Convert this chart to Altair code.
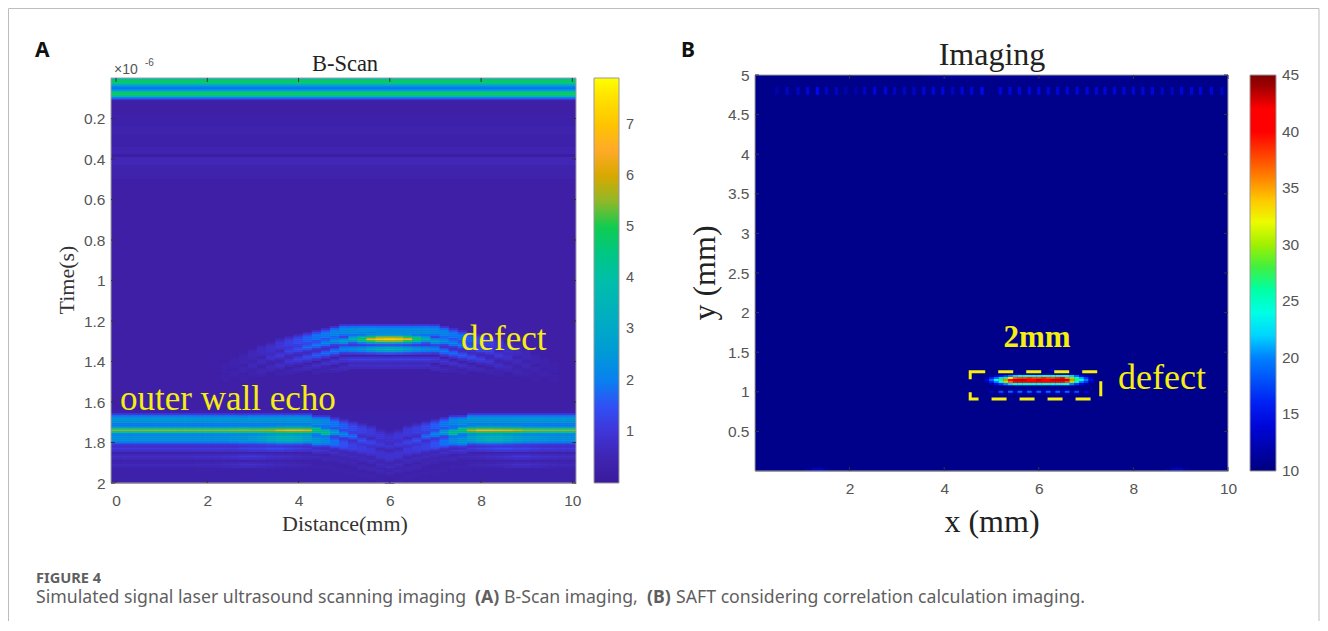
import altair as alt
import pandas as pd

# ---------- panel A: B-scan ----------
A_COLOR_VALUES = [0, 0.3, 0.6, 1, 1.5, 1.7, 2, 2.5, 3, 4, 4.6, 5, 5.3, 5.7, 6, 6.2, 6.5, 7, 7.5, 7.91]
A_COLORS = ["#3a1a9c", "#3e1fa6", "#4028b8", "#3f35d8", "#3050f5", "#0f70f8", "#0a80f0", "#0098d8",
            "#00a8c8", "#00bfa8", "#00c878", "#10cc50", "#70c040", "#b0b010", "#d8a800", "#f0a808",
            "#ffaa28", "#ffc400", "#ffe000", "#ffff00"]
A_XTICKS = [0, 2, 4, 6, 8, 10]
A_YTICKS = [0.2, 0.4, 0.6, 0.8, 1, 1.2, 1.4, 1.6, 1.8, 2]
A_CTICKS = [1, 2, 3, 4, 5, 6, 7]

# full-width horizontal rows: time from, time to, amplitude
A_ROWS = [
    (0.00, 0.006, 3.6), (0.006, 0.012, 4.4), (0.012, 0.024, 4.9), (0.024, 0.03, 4.2), (0.03, 0.038, 3.2),
    (0.038, 0.046, 2.3), (0.046, 0.056, 1.7), (0.056, 0.064, 2.6), (0.064, 0.072, 3.8), (0.072, 0.086, 4.9),
    (0.086, 0.094, 3.6), (0.094, 0.102, 2.0), (0.102, 0.11, 1.0), (0.11, 0.18, 0.28), (0.18, 0.24, 0.36),
    (0.24, 0.28, 0.42), (0.28, 0.34, 0.36), (0.34, 0.375, 0.45), (0.375, 0.39, 0.22), (0.39, 0.43, 0.55),
    (0.43, 0.5, 0.42), (0.5, 1.46, 0.3), (1.46, 1.64, 0.28), (1.64, 2.0, 0.36),
]

# columns of the scan, left to right
A_COLUMN_START = -0.11
A_COLUMN_WIDTH = 0.2
A_COLUMNS = 51
A_ROW_HEIGHT = 0.01

# defect echo, by column distance from the apex (one mirrored half)
DEFECT_SHIFT = [0, 0, 0, 0, 0, .005, .012, .02, .03, .04, .05, .063, .077, .092, .108, .125, .145, .165, .185, .205, .23]
DEFECT_TOP = [2.3, 2.3, 2.3, 2.3, 2.3, 2.2, 2.1, 1.9, 1.8, 1.6, 1.4, 1.2, 1.0, .85, .7, .6, .5, .45, .4, 0, 0]
DEFECT_MAIN = [7.3, 7.1, 6.6, 5.0, 3.5, 2.9, 2.5, 2.2, 2.0, 1.8, 1.5, 1.3, 1.1, .9, .7, .6, .5, .45, .4, 0, 0]
DEFECT_LOW = [3.6, 3.4, 3.0, 2.6, 2.4, 2.2, 2.0, 1.8, 1.6, 1.4, 1.2, 1.0, .8, .65, .55, .45, .4, 0, 0, 0, 0]
DEFECT_R1 = [1.2, 1.2, 1.2, 1.2, 1.2, 1.1, 1.0, .9, .8, .7, .6, .5, .45, 0, 0, 0, 0, 0, 0, 0, 0]
DEFECT_R2 = [.8, .8, .8, .8, .8, .7, .6, .5, .45, 0, 0, 0, 0, 0, 0, 0, 0, 0, 0, 0, 0]

# outer wall echo, one value per column
WALL_SHIFT = [0, 0, 0, 0, 0, 0, 0, 0, 0, 0, 0, 0, 0, 0, 0, 0, 0, 0, 0, 0, 0, 0, .005, .01, .015, .025, .035, .05, .06, .075, .085,
              .075, .06, .05, .035, .025, .015, .01, .005, 0, 0, 0, 0, 0, 0, 0, 0, 0, 0, 0, 0]
WALL_PEAK = [5.4, 5.4, 5.4, 5.4, 5.4, 5.4, 5.4, 5.4, 5.4, 5.4, 5.4, 5.4, 5.4, 5.5, 5.5, 5.5, 5.6, 5.8, 6.3, 6.5, 6.5, 6.3, 4.9, 4.6, 3.0, 2.2, 1.8, 1.5, 1.3, 1.1, 1.0,
             1.1, 1.3, 1.5, 1.8, 2.2, 3.0, 4.6, 4.9, 6.0, 6.5, 6.5, 6.4, 6.3, 6.1, 5.6, 5.5, 5.4, 5.4, 5.4, 5.4]
WALL_UPPER = [2.5, 2.5, 2.5, 2.5, 2.5, 2.5, 2.5, 2.5, 2.5, 2.5, 2.5, 2.5, 2.5, 2.5, 2.5, 2.5, 2.5, 2.5, 2.5, 2.5, 2.5, 2.5, 2.4, 2.2, 1.9, 1.6, 1.4, 1.2, 1.1, 1.0, .9,
              1.0, 1.1, 1.2, 1.4, 1.6, 1.9, 2.2, 2.4, 2.5, 2.5, 2.5, 2.5, 2.5, 2.5, 2.5, 2.5, 2.5, 2.5, 2.5, 2.5]
WALL_LOWER = [2.4, 2.4, 2.4, 2.4, 2.4, 2.4, 2.4, 2.4, 2.4, 2.4, 2.4, 2.4, 2.4, 2.5, 2.6, 2.7, 2.9, 3.2, 3.5, 3.5, 3.3, 2.9, 2.5, 2.2, 1.8, 1.5, 1.2, 1.1, 1.0, .9, .9,
              .9, 1.0, 1.1, 1.2, 1.5, 1.8, 2.2, 2.5, 2.9, 3.3, 3.5, 3.5, 3.2, 2.9, 2.7, 2.6, 2.5, 2.4, 2.4, 2.4]
WALL_R1 = [1.1, 1.1, 1.1, 1.1, 1.1, 1.1, 1.1, 1.1, 1.1, 1.1, 1.1, 1.1, 1.1, 1.1, 1.2, 1.3, 1.3, 1.4, 1.4, 1.3, 1.2, 1.1, 1.0, .9, .8, .7, .7, .7, .7, .7, .7,
           .7, .7, .7, .7, .7, .8, .9, 1.0, 1.1, 1.2, 1.3, 1.4, 1.4, 1.3, 1.3, 1.2, 1.1, 1.1, 1.1, 1.1]
WALL_R2 = [.75, .75, .75, .75, .75, .75, .75, .75, .75, .8, .8, .8, .85, .9, 1.0, 1.0, .95, .85, .8, .75, .7, .65, .6, .6, .55, .55, .55, .55, .55, .55, .55,
           .55, .55, .55, .55, .55, .55, .6, .6, .65, .7, .75, .8, .9, 1.0, 1.0, .9, .85, .8, .75, .75]
PROFILE_THIN = [(-.02, .35), (-.01, .75), (0, 1), (.01, .75), (.02, .35)]
PROFILE_THICK = [(-.03, .35), (-.02, .75), (-.01, 1), (0, 1), (.01, 1), (.02, .75), (.03, .35)]
PROFILE_FAINT = [(-.01, .6), (0, 1), (.01, .6)]

# ---------- panel B: imaging ----------
B_COLOR_VALUES = [10, 15, 20, 23, 25, 27.5, 28, 30, 32.5, 35, 37, 40, 42, 43, 45]
B_COLORS = ["#00007f", "#0008f0", "#0080ff", "#00ffff", "#00ffc8", "#00ff70", "#40f040", "#a0f000",
            "#ffff00", "#ffa000", "#ff6000", "#ff0000", "#ff0000", "#c00000", "#7f0000"]
B_XTICKS = [2, 4, 6, 8, 10]
B_YTICKS = [0.5, 1, 1.5, 2, 2.5, 3, 3.5, 4, 4.5, 5]
B_CTICKS = [10.001, 15, 20, 25, 30, 35, 40, 44.999]
B_BACKGROUND = 10.5
DEFECT_X = [4.9, 5.0, 5.1, 5.2, 5.3, 5.4, 5.5, 5.6, 5.7, 5.8, 5.9, 6.0, 6.1, 6.2, 6.3, 6.4, 6.5, 6.6, 6.7, 6.8, 6.9, 7.0, 7.1]
DEFECT_Y = [1.275, 1.2, 1.175, 1.15, 1.125, 1.1, 1.025, 1.0, 0.975]
DEFECT_IMAGE = [
    [10, 10, 10, 10, 10, 12, 11, 10, 10, 11, 10, 10, 10, 11, 13, 11, 10, 10, 10, 10, 10, 10, 10],
    [10, 11, 13, 15, 17, 20, 22, 24, 24, 24, 24, 24, 24, 24, 24, 24, 24, 23, 22, 19, 15, 12, 10],
    [12, 16, 19, 22, 27, 33, 37, 38, 38, 39, 38, 38, 39, 38, 38, 39, 40, 36, 29, 25, 21, 17, 13],
    [14, 19, 23, 28, 36, 42, 43, 43, 43, 42, 42, 43, 42, 42, 43, 43, 44, 43, 36, 28, 24, 20, 15],
    [12, 16, 20, 23, 30, 37, 40, 41, 40, 41, 41, 40, 41, 41, 40, 41, 41, 38, 30, 24, 20, 17, 12],
    [10, 12, 15, 17, 20, 22, 24, 24, 24, 24, 24, 24, 24, 24, 24, 24, 24, 23, 20, 17, 14, 12, 10],
    [10, 10, 10, 11, 10, 11, 11, 12, 11, 12, 11, 12, 11, 12, 11, 12, 11, 12, 10, 11, 10, 10, 10],
    [10, 13, 11, 18, 12, 19, 13, 19, 13, 19, 13, 19, 13, 19, 13, 19, 13, 19, 12, 18, 11, 14, 10],
    [10, 11, 10, 12, 10, 12, 11, 12, 11, 12, 11, 12, 11, 12, 11, 12, 11, 12, 10, 12, 10, 10, 10],
]
SPOT_X = [.46, .68, .91, 1.11, 1.32, 1.51, 1.72, 1.92, 2.13, 2.32, 2.53, 2.76, 2.95, 3.16, 3.36, 3.57, 3.77, 3.97, 4.18, 4.38, 4.58, 4.8,
          5.19, 5.39, 5.59, 5.8, 6.0, 6.2, 6.4, 6.6, 6.81, 7.02, 7.22, 7.4, 7.6, 7.8, 8.0, 8.2, 8.4, 8.61, 8.82, 9.02, 9.23, 9.42, 9.65, 9.87]
SPOT_V = [12, 13, 13, 14, 15, 13, 13, 12, 12, 13, 14, 14, 13, 13, 13, 14, 14, 14, 13, 14, 14, 15,
          14, 14, 14, 14, 14, 14, 14, 14, 14, 14, 14, 14, 14, 14, 14, 14, 14, 13, 13, 14, 14, 14, 14, 13]
EDGE_CELLS = [(1.05, 1.2, 0, .03, 11.5), (1.2, 1.45, 0, .045, 12.5), (1.45, 1.6, 0, .03, 11.5),
              (8.65, 8.8, 0, .03, 11.5), (8.8, 9.05, 0, .045, 12.5), (9.05, 9.2, 0, .03, 11.5),
              (3.6, 8.0, 4.95, 4.99, 11)]
BOX = [(4.55, 7.31, 0.91, 1.254)]

# ---------- shared text and layout ----------
SANS = "Liberation Sans"
SERIF = "Liberation Serif"
CAPTION = "Noto Sans"
A_LEFT, B_LEFT, TOP = 111, 755, 75
A_W, A_H, B_W, B_H = 465, 408, 473, 396
FRAME = "#bdbdbd"
FRAME_RIGHT = 1319
FRAME_BOTTOM = 621


def text(origin, px, py, s, size, font=SERIF, color="#222222", weight="normal", angle=0, align="left"):
    return alt.Chart(pd.DataFrame({"s": [s]})).mark_text(
        font=font, fontSize=size, color=color, fontWeight=weight, angle=angle, align=align, baseline="middle"
    ).encode(x=alt.value(px - origin), y=alt.value(py - TOP), text="s:N")


def axis(values, pad, size=15.5):
    return alt.Axis(values=values, title=None, grid=False, tickSize=0, labelPadding=pad,
                    labelExpr="'' + datum.value",
                    labelFont=SANS, labelFontSize=size, labelColor="#555555", domainColor="#a0a0a0",
                    labelOverlap=False, labelFlush=False)


def inner_ticks(field, values, channel, scale, ax, size=4, h=0, w=0):
    d = pd.DataFrame({field: values})
    base = alt.Chart(d).mark_rule(color="#333344", strokeWidth=1)
    layers = []
    if channel == "x":
        enc = alt.X(field + ":Q", scale=scale, axis=ax)
        layers.append(base.encode(x=enc, y=alt.value(h), y2=alt.value(h - size)))
        layers.append(base.encode(x=enc, y=alt.value(h - w), y2=alt.value(h - w + size)))
    else:
        enc = alt.Y(field + ":Q", scale=scale, axis=ax)
        layers.append(base.encode(y=enc, x=alt.value(0), x2=alt.value(size)))
        layers.append(base.encode(y=enc, x=alt.value(w), x2=alt.value(w - size)))
    return layers


# ---------- build panel A cells ----------
a_rows = pd.DataFrame(A_ROWS, columns=["t0", "t1", "v"]).assign(x0=-0.11, x1=10.08)
a_rows["t1"] = a_rows["t1"] + 0.005
grid = {}


def add_band(col, centre, amp, profile, bg=0.3):
    if amp <= 0:
        return
    for off, w in profile:
        r = int((centre + off) / A_ROW_HEIGHT + 0.5 + 1e-6)
        val = bg + (amp - bg) * w
        grid[(col, r)] = max(grid.get((col, r), 0), val)


for i in range(A_COLUMNS):
    k = abs(i - 30)
    if k < len(DEFECT_SHIFT):
        s = DEFECT_SHIFT[k]
        add_band(i, 1.245 + s, DEFECT_TOP[k], PROFILE_THICK)
        add_band(i, 1.29 + s, DEFECT_MAIN[k], PROFILE_THIN)
        add_band(i, 1.339 + s, DEFECT_LOW[k], PROFILE_THIN)
        add_band(i, 1.385 + s, DEFECT_R1[k], PROFILE_FAINT)
        add_band(i, 1.423 + s, DEFECT_R2[k], PROFILE_FAINT)
    s = WALL_SHIFT[i]
    add_band(i, 1.69 + s, WALL_UPPER[i], PROFILE_THICK)
    add_band(i, 1.735 + s, WALL_PEAK[i], PROFILE_THIN)
    add_band(i, 1.78 + s, WALL_LOWER[i], PROFILE_THICK)
    add_band(i, 1.83 + s, WALL_R1[i], PROFILE_FAINT)
    add_band(i, 1.865 + s, WALL_R2[i], PROFILE_FAINT)
    add_band(i, 1.91 + s, WALL_R2[i] * 0.8, PROFILE_FAINT)

a_cells = pd.DataFrame(
    [{"x0": A_COLUMN_START + c * A_COLUMN_WIDTH,
      "x1": min(A_COLUMN_START + (c + 1) * A_COLUMN_WIDTH + 0.01, 10.08),
      "t0": r * A_ROW_HEIGHT - A_ROW_HEIGHT / 2,
      "t1": r * A_ROW_HEIGHT + A_ROW_HEIGHT / 2 + 0.002, "v": grid[(c, r)]}
     for (c, r) in sorted(grid)]
)
a_data = pd.concat([a_rows, a_cells], ignore_index=True)
a_data["t1"] = a_data["t1"].clip(upper=2)

a_x = alt.Scale(domain=[-0.11, 10.08], nice=False, zero=False)
a_y = alt.Scale(domain=[0, 2], range=[3, A_H], nice=False, zero=False)
a_c = alt.Scale(domain=A_COLOR_VALUES, range=A_COLORS, interpolate="rgb", clamp=True)
a_xaxis, a_yaxis = axis(A_XTICKS, 10), axis(A_YTICKS, 6)

a_heat = alt.Chart(a_data).mark_rect(strokeWidth=0).encode(
    x=alt.X("x0:Q", scale=a_x, axis=a_xaxis),
    x2="x1:Q",
    y=alt.Y("t0:Q", scale=a_y, axis=a_yaxis),
    y2="t1:Q",
    color=alt.Color("v:Q", scale=a_c, legend=alt.Legend(
        orient="none", legendX=483, legendY=3, title=None, values=A_CTICKS, direction="vertical",
        gradientLength=405, gradientThickness=25, gradientStrokeColor="#999999", gradientStrokeWidth=1,
        labelFont=SANS, labelFontSize=14.5, labelColor="#555555", labelOffset=7, labelOverlap=False)),
)
a_frame = alt.Chart(pd.DataFrame({"x0": [-0.11], "x1": [10.08], "t0": [0], "t1": [2]})).mark_rect(
    fill=None, stroke="#a0a0a0", strokeWidth=1
).encode(x=alt.X("x0:Q", scale=a_x, axis=a_xaxis), x2="x1:Q", y=alt.Y("t0:Q", scale=a_y, axis=a_yaxis), y2="t1:Q")

page = [
    alt.Chart(pd.DataFrame({"a": [0]})).mark_rule(color=FRAME, strokeWidth=1).encode(
        x=alt.value(8.5 - A_LEFT), x2=alt.value(FRAME_RIGHT - A_LEFT), y=alt.value(8.5 - TOP)),
    alt.Chart(pd.DataFrame({"a": [0]})).mark_rule(color=FRAME, strokeWidth=1).encode(
        x=alt.value(8.5 - A_LEFT), y=alt.value(8.5 - TOP), y2=alt.value(FRAME_BOTTOM - TOP)),
    alt.Chart(pd.DataFrame({"a": [0]})).mark_rule(color=FRAME, strokeWidth=1).encode(
        x=alt.value(FRAME_RIGHT - A_LEFT), y=alt.value(8.5 - TOP), y2=alt.value(FRAME_BOTTOM - TOP)),
]
a_text = [
    text(A_LEFT, 35, 51, "A", 21, font=CAPTION, color="#111111", weight="bold"),
    text(A_LEFT, 345, 64, "B-Scan", 22.5, align="center"),
    text(A_LEFT, 114, 70, "×10", 14, font=SANS, color="#555555"),
    text(A_LEFT, 145, 63, "-6", 10, font=SANS, color="#555555"),
    text(A_LEFT, 345, 524, "Distance(mm)", 22, color="#333333", align="center"),
    text(A_LEFT, 67, 280, "Time(s)", 22, color="#333333", angle=270, align="center"),
    text(A_LEFT, 461, 339, "defect", 35, color="#f5ee10"),
    text(A_LEFT, 120, 399, "outer wall echo", 35, color="#f5ee10"),
    text(A_LEFT, 36, 579, "FIGURE 4", 14.6, font=CAPTION, color="#5f5f5f", weight="bold"),
    text(A_LEFT, 36, 598, "Simulated signal laser ultrasound scanning imaging", 17.7, font=CAPTION, color="#5f5f5f"),
    text(A_LEFT, 475, 598, "(A)", 17.7, font=CAPTION, color="#5f5f5f", weight="bold"),
    text(A_LEFT, 504, 598, "B-Scan imaging,", 17.7, font=CAPTION, color="#5f5f5f"),
    text(A_LEFT, 647, 598, "(B)", 17.7, font=CAPTION, color="#5f5f5f", weight="bold"),
    text(A_LEFT, 676, 598, "SAFT considering correlation calculation imaging.", 17.7, font=CAPTION, color="#5f5f5f"),
]
a_colorbar_ticks = alt.Chart(pd.DataFrame({"v": A_CTICKS})).mark_rule(color="#444444").encode(
    y=alt.Y("v:Q", scale=alt.Scale(domain=[0, 7.91], range=[A_H, 3], nice=False, zero=False), axis=None),
    x=alt.value(505), x2=alt.value(508),
)
panel_a = alt.layer(
    alt.layer(
        a_heat, a_frame,
        *inner_ticks("tx", A_XTICKS, "x", a_x, a_xaxis, h=A_H, w=A_H - 3),
        *inner_ticks("ty", A_YTICKS, "y", a_y, a_yaxis, w=A_W),
        *page, *a_text,
    ),
    a_colorbar_ticks,
).resolve_scale(y="independent").properties(width=A_W, height=A_H)

# ---------- build panel B cells ----------
b_cells = [{"x0": 0, "x1": 10, "y0": 0, "y1": 5, "v": B_BACKGROUND}]
for x0, x1, y0, y1, v in EDGE_CELLS:
    b_cells.append({"x0": x0, "x1": x1, "y0": y0, "y1": y1, "v": v})
for x, v in zip(SPOT_X, SPOT_V):
    b_cells.append({"x0": x - 0.035, "x1": x + 0.035, "y0": 4.75, "y1": 4.85, "v": v})
for y, row in zip(DEFECT_Y, DEFECT_IMAGE):
    for x, v in zip(DEFECT_X, row):
        if v > B_BACKGROUND:
            b_cells.append({"x0": x - 0.05, "x1": x + 0.055, "y0": y - 0.0175, "y1": y + 0.0125, "v": v})
b_data = pd.DataFrame(b_cells)

b_x = alt.Scale(domain=[0, 10], nice=False, zero=False)
b_y = alt.Scale(domain=[0, 5], nice=False, zero=False)
b_c = alt.Scale(domain=B_COLOR_VALUES, range=B_COLORS, interpolate="rgb", clamp=True)
b_xaxis, b_yaxis = axis(B_XTICKS, 10), axis(B_YTICKS, 6)

b_heat = alt.Chart(b_data).mark_rect(strokeWidth=0).encode(
    x=alt.X("x0:Q", scale=b_x, axis=b_xaxis),
    x2="x1:Q",
    y=alt.Y("y0:Q", scale=b_y, axis=b_yaxis),
    y2="y1:Q",
    color=alt.Color("v:Q", scale=b_c, legend=alt.Legend(
        orient="none", legendX=495, legendY=0, title=None, values=B_CTICKS, direction="vertical", format=".0f",
        gradientLength=396, gradientThickness=26, gradientStrokeColor="#999999", gradientStrokeWidth=1,
        labelFont=SANS, labelFontSize=15.5, labelColor="#555555", labelOffset=6, labelOverlap=False)),
)
b_frame = alt.Chart(pd.DataFrame({"x0": [0], "x1": [10], "y0": [0], "y1": [5]})).mark_rect(
    fill=None, stroke="#a0a0a0", strokeWidth=1
).encode(x=alt.X("x0:Q", scale=b_x, axis=b_xaxis), x2="x1:Q", y=alt.Y("y0:Q", scale=b_y, axis=b_yaxis), y2="y1:Q")
b_box = alt.Chart(pd.DataFrame(BOX, columns=["x0", "x1", "y0", "y1"])).mark_rect(
    fill=None, stroke="#f8ee10", strokeWidth=3, strokeDash=[15, 13]
).encode(x=alt.X("x0:Q", scale=b_x, axis=b_xaxis), x2="x1:Q", y=alt.Y("y0:Q", scale=b_y, axis=b_yaxis), y2="y1:Q")
b_text = [
    text(B_LEFT, 681, 51, "B", 21, font=CAPTION, color="#111111", weight="bold"),
    text(B_LEFT, 992, 55, "Imaging", 32, align="center"),
    text(B_LEFT, 992, 522, "x (mm)", 32, align="center"),
    text(B_LEFT, 705, 273, "y (mm)", 32, angle=270, align="center"),
    text(B_LEFT, 1037, 338, "2mm", 31, color="#f5ee10", weight="bold", align="center"),
    text(B_LEFT, 1118, 378, "defect", 36, color="#f5ee10"),
]
b_colorbar_ticks = alt.Chart(pd.DataFrame({"v": [15, 20, 25, 30, 35, 40]})).mark_rule(color="#444444").encode(
    y=alt.Y("v:Q", scale=alt.Scale(domain=[10, 45], range=[B_H, 0], nice=False, zero=False), axis=None),
    x=alt.value(518), x2=alt.value(521),
)
panel_b = alt.layer(
    alt.layer(
        b_heat, b_frame, b_box,
        *inner_ticks("tx", B_XTICKS, "x", b_x, b_xaxis, h=B_H, w=B_H),
        *inner_ticks("ty", B_YTICKS, "y", b_y, b_yaxis, w=B_W),
        *b_text,
    ),
    b_colorbar_ticks,
).resolve_scale(y="independent").properties(width=B_W, height=B_H)

chart = alt.hconcat(panel_a, panel_b, spacing=B_LEFT - A_LEFT - A_W, bounds="flush").resolve_scale(
    color="independent"
).properties(padding=0, background="white").configure_view(stroke=None)

chart.save("out.html", embed_options={"renderer": "svg", "actions": False})
